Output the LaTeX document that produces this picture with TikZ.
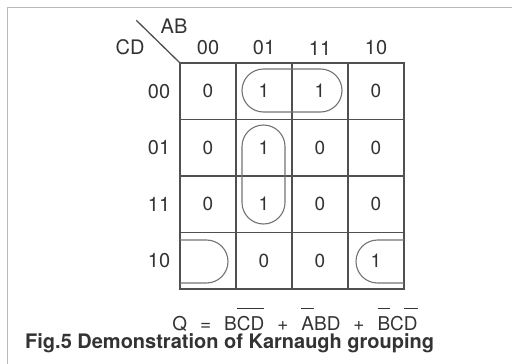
\documentclass[tikz,border=0pt]{standalone}
\usepackage{fontspec}
\setmainfont{TeX Gyre Heros}
\usetikzlibrary{positioning}

\definecolor{ink}{HTML}{333333}
\definecolor{rule}{HTML}{505050}
% overbar with a wide gap, as printed
\newcommand{\ovl}[1]{\leavevmode\vbox{\hrule height 1.3pt\kern 7pt\hbox{#1}}}

\begin{document}
\begin{tikzpicture}[x=1pt, y=-1pt, text=ink,
    font=\fontsize{20}{23}\selectfont,
    cell/.style={draw=rule, line width=1.3pt, minimum width=56pt, minimum height=56.5pt,
                 inner sep=0pt, font=\fontsize{19}{22}\selectfont},
    lab/.style={inner sep=1pt},
    grp/.style={draw=rule!80, line width=1.1pt},
    frame/.style={draw=gray!55, line width=0.8pt}]
    \useasboundingbox (0,0) rectangle (512,364);

    \draw[frame] (7,364) -- (7,7) -- (512,7);

    % the map, row by row (CD = 00, 01, 11, 10)
    \foreach \row [count=\ri] in {{0,1,1,0},{0,1,0,0},{0,1,0,0},{{},0,0,1}} {
        \foreach \v [count=\ci] in \row {
            \node[cell] (k-\ri-\ci) at ({152+56*\ci}, {34.75+56.5*\ri}) {\v};
        }
    }

    \foreach \t [count=\ci] in {00,01,11,10} {
        \node[lab] (h-\ci) at ({152+56*\ci}, 48) {\t};
        \node[lab, anchor=east] (v-\ci) at ([xshift=-8pt]k-\ci-1.west) {\t};
    }

    \draw[rule, line width=1.3pt] (k-1-1.north west) -- ++(-43,-42);
    \node[lab] (ab) at (174,26) {AB};
    \node[lab] (cd) at (130,47) {CD};

    % groupings
    \draw[grp, rounded corners=21.5pt] (242,69) rectangle (342,112);
    \draw[grp, rounded corners=21.5pt] (242,125) rectangle (285,224);
    \draw[grp] (180,240) -- (206.5,240) arc[start angle=-90, end angle=90, radius=21.5] -- (180,283);
    \draw[grp] (404,240) -- (377.5,240) arc[start angle=-90, end angle=-270, radius=21.5] -- (404,283);

    \node[anchor=base, inner sep=0pt, font=\fontsize{19}{22}\selectfont] (eq) at (295,330)
        {Q\hspace{13pt}=\hspace{13pt}B\ovl{CD}\hspace{13pt}+\hspace{13pt}\ovl{A}BD\hspace{13pt}+\hspace{13pt}\ovl{B}C\ovl{D}};
    \node[anchor=base west, inner sep=0pt, font=\fontsize{20}{24}\selectfont\bfseries] (cap) at (25,348)
        {Fig.5 Demonstration of Karnaugh grouping};
\end{tikzpicture}
\end{document}
